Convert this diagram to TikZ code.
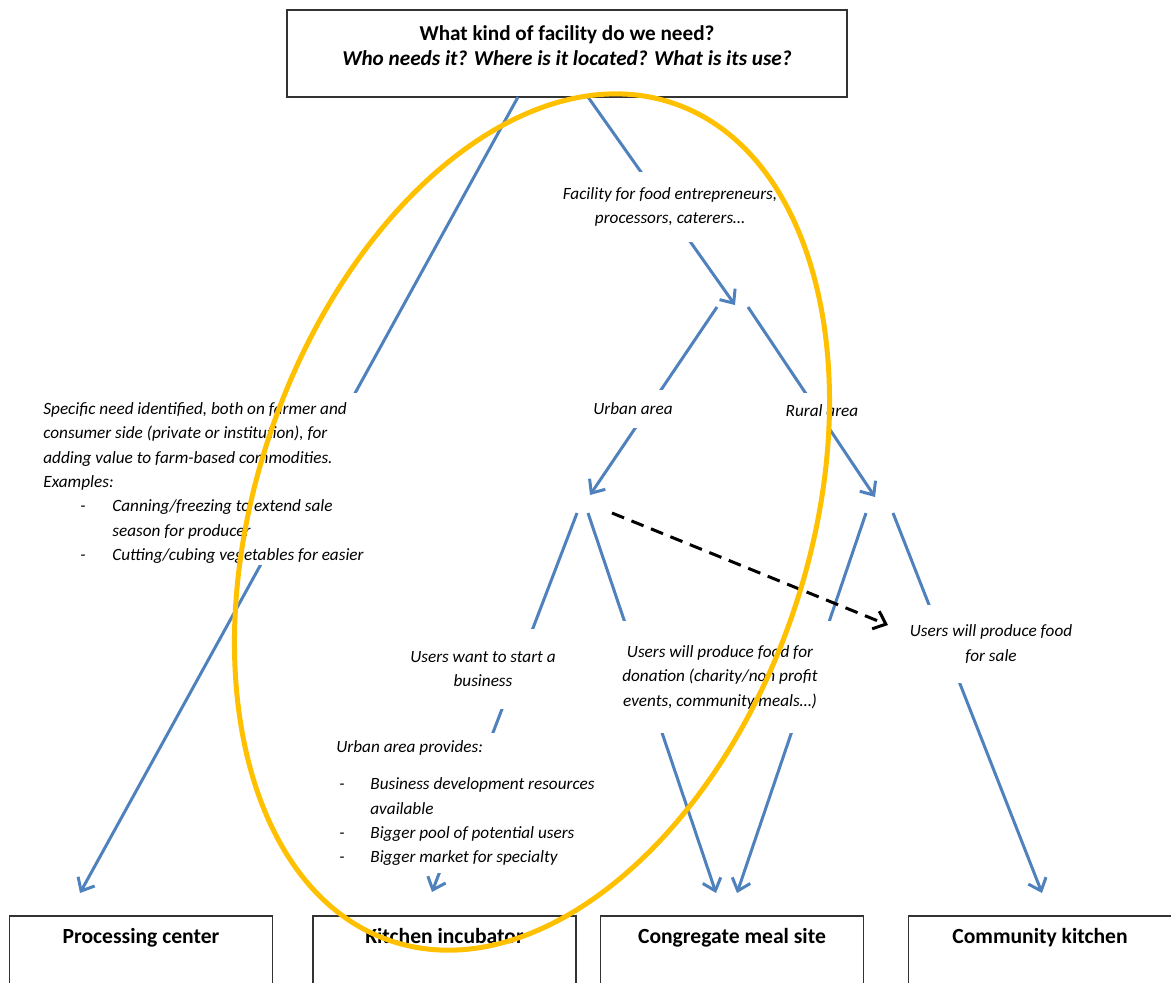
\documentclass[tikz,border=0pt]{standalone}
\usepackage{fontspec}
\setmainfont{Carlito}
\usetikzlibrary{arrows.meta}
\definecolor{flowblue}{RGB}{79,129,189}
\definecolor{ringgold}{RGB}{255,192,0}
\newcommand{\listdash}[2]{\makebox[#2][l]{\hspace*{#1}-}}

\begin{document}
\begin{tikzpicture}[x=0.5pt, y=-0.5pt,
    >={Straight Barb[length=5.5pt,width=9.5pt]},
    flow/.style={->, draw=flowblue, line width=1.5pt},
    hint/.style={->, draw=black, line width=1.5pt, dash pattern=on 6.5pt off 4pt},
    note/.style={fill=white, inner sep=0pt, align=center,
        font=\itshape\fontsize{8.6}{12.2}\selectfont},
    outcome/.style={draw=black!80, line width=0.75pt, anchor=north,
        minimum width=131.5pt, inner ysep=0pt, text height=14pt, text depth=60pt,
        font=\bfseries\fontsize{10.8}{12}\selectfont}]

    \useasboundingbox (0,0) rectangle (1171,982);
    \clip (0,0) rectangle (1171,982);

    % --- question box ---
    \node[draw=black!80, line width=0.75pt, minimum width=280pt, minimum height=43.5pt,
        align=center, font=\bfseries\fontsize{10.6}{12.5}\selectfont] (q) at (567,53.5)
        {What kind of facility do we need?\\
         \textit{Who needs it? Where is it located? What is its use?}\\[-8.5pt]\strut};

    % --- outcome boxes ---
    \node[outcome] (proc) at (141,915) {Processing center};
    \node[outcome] (incub) at (444.5,915) {Kitchen incubator};
    \node[outcome] (meal) at (732,915) {Congregate meal site};
    \node[outcome] (commkit) at (1040,915) {Community kitchen};

    % --- ends of the connectors ---
    \coordinate (qa) at (518,97);
    \coordinate (qb) at (588,97);
    \coordinate (foodfork) at (735,305);
    \coordinate (urbanout) at (717,307);
    \coordinate (ruralout) at (748,307);
    \coordinate (urbanfork) at (590,495);
    \coordinate (ruralfork) at (875,497);
    \coordinate (bizout) at (577,513);
    \coordinate (donout) at (588,513);
    \coordinate (hintout) at (612,513);
    \coordinate (ruraldon) at (866,513);
    \coordinate (ruralsale) at (893,513);
    \coordinate (hintin) at (888,625);
    \coordinate (procin) at (80,893);
    \coordinate (incubin) at (432,892);
    \coordinate (mealin) at (716,893);
    \coordinate (mealin2) at (737,893);
    \coordinate (commin) at (1042,893);

    % --- connectors (the notes are laid on top of them) ---
    \draw[flow] (qa) -- (procin);
    \draw[flow] (qb) -- (foodfork);
    \draw[flow] (urbanout) -- (urbanfork);
    \draw[flow] (ruralout) -- (ruralfork);
    \draw[flow] (bizout) -- (incubin);
    \draw[flow] (donout) -- (mealin);
    \draw[flow] (ruraldon) -- (mealin2);
    \draw[flow] (ruralsale) -- (commin);
    \draw[hint] (hintout) -- (hintin);

    % --- notes ---
    \begin{scope}
        \clip (25,390) rectangle (385,564);
        \node[note, align=left, anchor=west, inner xsep=6pt, minimum height=90pt] (need) at (31,483)
            {Specific need identified, both on farmer and\\
             consumer side (private or institution), for\\
             adding value to farm-based commodities.\\
             Examples:\\
             \listdash{18.5pt}{34.5pt}Canning/freezing to extend sale\\
             \hspace*{34.5pt}season for producer\\
             \listdash{18.5pt}{34.5pt}Cutting/cubing vegetables for easier};
    \end{scope}

    \node[note, minimum height=35pt] (food) at (670,207)
        {Facility for food entrepreneurs,\\ processors, caterers\dots};
    \node[note, minimum height=19pt] (urban) at (633,409) {Urban area};
    \node[note, minimum height=18pt] (rural) at (822,411) {Rural area};
    \node[note, minimum height=40pt] (biz) at (483,669) {Users want to start a\\ business};
    \node[note, minimum height=56pt, minimum width=115pt] (donation) at (720,677)
        {Users will produce food for\\ donation  (charity/non profit\\ events, community meals\dots)};
    \node[note, minimum height=39pt] (sale) at (991,644) {Users will produce food\\ for sale};
    \node[note, align=left, anchor=west, minimum height=70pt] (provides) at (336,803)
        {Urban area provides:\\[6.5pt]
         \listdash{1.5pt}{17pt}Business development resources\\
         \hspace*{17pt}available\\
         \listdash{1.5pt}{17pt}Bigger pool of potential users\\
         \listdash{1.5pt}{17pt}Bigger market for specialty};

    % --- highlight ring ---
    \coordinate (ringc) at (532,522);
    \draw[ringgold, line width=2.5pt, rotate around={71.4:(ringc)}]
        (ringc) ellipse [x radius=221pt, y radius=138.2pt];

\end{tikzpicture}
\end{document}
